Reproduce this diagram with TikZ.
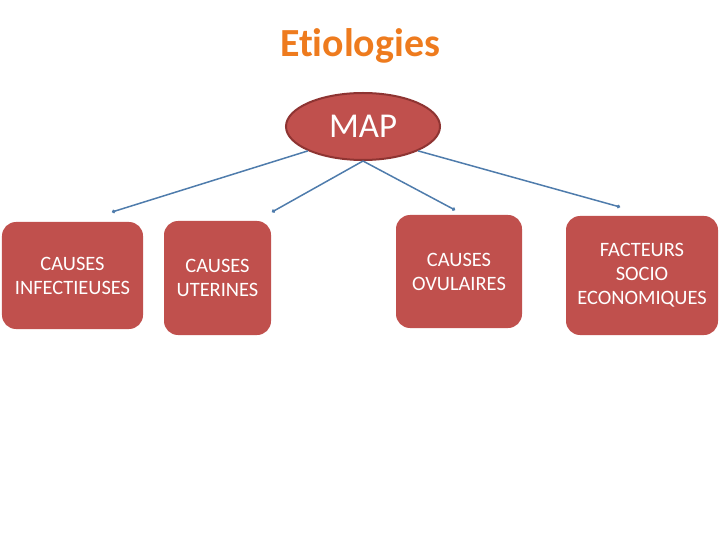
\documentclass[tikz,border=0pt]{standalone}
\usepackage{fontspec}
\setmainfont[Ligatures=NoCommon]{Carlito}
\usetikzlibrary{arrows.meta,shapes.geometric}
\definecolor{boxred}{HTML}{C0504D}
\definecolor{darkred}{HTML}{8E3432}
\definecolor{linkblue}{HTML}{4F7CAC}
\definecolor{titleorange}{HTML}{EE7B1E}
\tikzset{
  box/.style={draw=none, fill=boxred, rounded corners=14bp, text=white, align=center,
    font=\fontsize{20.5}{24}\selectfont, inner sep=0pt},
  link/.style={draw=linkblue, line width=1.5bp, -{Circle[length=3.5bp]}},
}
\begin{document}
\begin{tikzpicture}[x=1bp,y=-1bp]
\useasboundingbox (0,0) rectangle (720,540);
\node[text=titleorange, font=\fontsize{40}{44}\selectfont\bfseries] (title) at (360,46) {Etiologies};
\node[ellipse, fill=boxred, draw=darkred, line width=2bp, minimum width=154bp, minimum height=67bp,
  inner sep=0pt, text=white, font=\fontsize{35}{38}\selectfont] (map) at (363,126.5) {MAP};
\node[box, minimum width=141bp, minimum height=107bp] (b1) at (72.5,275.5) {CAUSES\\INFECTIEUSES};
\node[box, minimum width=107bp, minimum height=114bp] (b2) at (217.5,278) {CAUSES\\UTERINES};
\node[box, minimum width=126bp, minimum height=113bp] (b3) at (459,271.5) {CAUSES\\OVULAIRES};
\node[box, minimum width=152bp, minimum height=119bp] (b4) at (642,275.5) {FACTEURS\\SOCIO\\ECONOMIQUES};
\coordinate (e1) at (112,212);
\coordinate (e2) at (272,212);
\coordinate (e3) at (455,210);
\coordinate (e4) at (620,207);
\draw[link] (map.south west) -- (e1);
\draw[link] (map.south) -- (e2);
\draw[link] (map.south) -- (e3);
\draw[link] (map.south east) -- (e4);
\end{tikzpicture}
\end{document}
